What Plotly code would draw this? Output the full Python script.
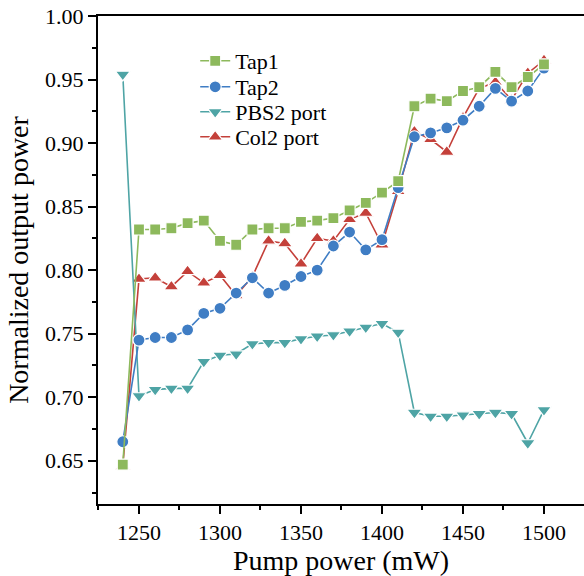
import plotly.graph_objects as go

pump_power = [1240, 1250, 1260, 1270, 1280, 1290, 1300, 1310, 1320, 1330, 1340,
              1350, 1360, 1370, 1380, 1390, 1400, 1410, 1420, 1430, 1440, 1450,
              1460, 1470, 1480, 1490, 1500]

tap1 = [0.647, 0.832, 0.832, 0.833, 0.837, 0.839, 0.823, 0.820, 0.832, 0.833, 0.833,
        0.838, 0.839, 0.841, 0.847, 0.853, 0.861, 0.870, 0.929, 0.935, 0.933, 0.941,
        0.944, 0.956, 0.944, 0.952, 0.962]

tap2 = [0.665, 0.745, 0.747, 0.747, 0.753, 0.766, 0.770, 0.782, 0.794, 0.782, 0.788,
        0.795, 0.800, 0.819, 0.830, 0.816, 0.824, 0.865, 0.905, 0.908, 0.912, 0.918,
        0.929, 0.943, 0.933, 0.941, 0.959]

pbs2 = [0.954, 0.701, 0.706, 0.707, 0.707, 0.728, 0.733, 0.734, 0.742, 0.743, 0.743,
        0.746, 0.748, 0.749, 0.752, 0.755, 0.758, 0.751, 0.688, 0.685, 0.685, 0.686,
        0.687, 0.688, 0.687, 0.664, 0.690]

col2 = [0.646, 0.793, 0.794, 0.787, 0.799, 0.790, 0.796, 0.780, 0.795, 0.823, 0.821,
        0.805, 0.825, 0.823, 0.840, 0.845, 0.820, 0.862, 0.909, 0.903, 0.893, 0.920,
        0.943, 0.948, 0.934, 0.955, 0.965]

x_ticks = [1250, 1300, 1350, 1400, 1450, 1500]
y_ticks = [0.65, 0.70, 0.75, 0.80, 0.85, 0.90, 0.95, 1.00]

FONT = "Liberation Serif"

series = [
    # (name, values, color, symbol, size, legend id) drawn bottom -> top
    ("Col2 port", col2, "#C4403A", "triangle-up", 13, "legend4"),
    ("PBS2 port", pbs2, "#4EA4A5", "triangle-down", 13, "legend3"),
    ("Tap2", tap2, "#3F7DC4", "circle", 12, "legend2"),
    ("Tap1", tap1, "#8DB95C", "square", 11, "legend"),
]

fig = go.Figure()
for name, vals, color, symbol, size, leg in series:
    fig.add_trace(go.Scatter(
        x=pump_power, y=vals, name=name, mode="lines+markers",
        line=dict(color=color, width=1.6),
        marker=dict(symbol=symbol, size=size, color=color,
                    line=dict(color="white", width=1.2)),
        legend=leg, showlegend=True,
    ))

axis_common = dict(
    showline=True, linecolor="black", linewidth=2, mirror=True,
    ticks="outside", ticklen=8, tickwidth=1.5, tickcolor="black",
    showgrid=False, zeroline=False,
    tickfont=dict(family=FONT, size=22, color="black"),
)

fig.update_xaxes(
    range=[1224.7, 1524.7], tickvals=x_ticks,
    minor=dict(dtick=25, tick0=1225, ticks="outside", ticklen=4, tickwidth=1.5, tickcolor="black"),
    title=dict(text="Pump power (mW)", font=dict(family=FONT, size=28, color="black"), standoff=4),
    **axis_common,
)
fig.update_yaxes(
    range=[0.616, 1.0], tickvals=y_ticks, tickformat=".2f",
    minor=dict(dtick=0.025, tick0=0.625, ticks="outside", ticklen=4, tickwidth=1.5, tickcolor="black"),
    title=dict(text="Normalized output power", font=dict(family=FONT, size=28, color="black"), standoff=8),
    **axis_common,
)

plot_top, plot_bottom = 16, 504
def legend_at(ypx):
    return dict(x=0.2, y=(plot_bottom - ypx) / (plot_bottom - plot_top),
                xanchor="left", yanchor="middle", bgcolor="rgba(0,0,0,0)",
                font=dict(family=FONT, size=22, color="black"), borderwidth=0)

fig.update_layout(
    width=584, height=576,
    font=dict(family=FONT, color="black"),
    margin=dict(l=98, r=0, t=plot_top, b=576 - plot_bottom, autoexpand=False),
    plot_bgcolor="white", paper_bgcolor="white",
    legend=legend_at(61),
    legend2=legend_at(87),
    legend3=legend_at(112),
    legend4=legend_at(137),
)

fig.write_html("out.html", config={"displayModeBar": False},
               post_script="document.body.style.margin='0';")
